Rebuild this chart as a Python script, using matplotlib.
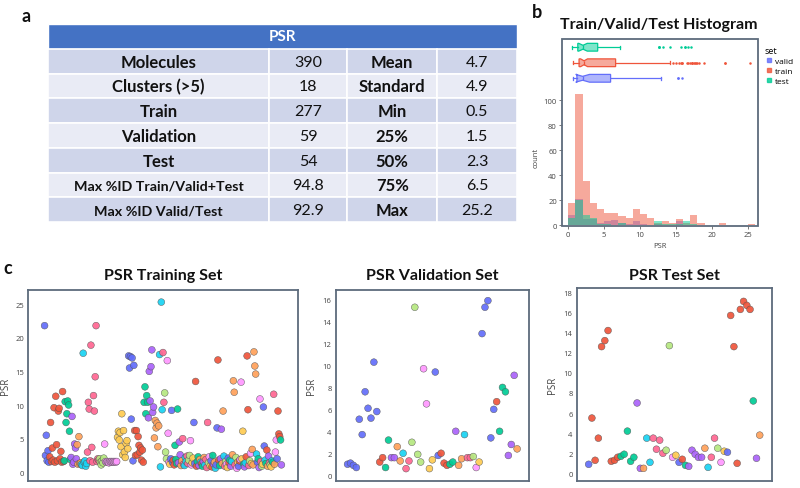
import matplotlib

matplotlib.use("Agg")

import matplotlib.pyplot as plt
import numpy as np
from matplotlib.colors import to_rgba
from matplotlib.lines import Line2D
from matplotlib.patches import Rectangle

plt.rcParams["font.family"] = ["Open Sans", "DejaVu Sans"]

# ---- panel a: summary table
table_labels = ["Molecules", "Clusters (>5)", "Train", "Validation", "Test",
                "Max %ID Train/Valid+Test", "Max %ID Valid/Test"]
table_counts = ["390", "18", "277", "59", "54", "94.8", "92.9"]
stat_labels = ["Mean", "Standard", "Min", "25%", "50%", "75%", "Max"]
stat_values = ["4.7", "4.9", "0.5", "1.5", "2.3", "6.5", "25.2"]

# plotly default qualitative colours, keyed by cluster code
palette = {"b": "#636EFA", "r": "#EF553B", "g": "#00CC96", "p": "#AB63FA",
           "o": "#FFA15A", "c": "#19D3F3", "k": "#FF6692", "l": "#B6E880",
           "m": "#FF97FF", "y": "#FECB52"}

# ---- panel c: per-molecule PSR, in sample order
train_psr = [
    21.8, 2.5, 5.5, 1.7, 3.2, 1.5, 2.3, 7.4, 1.6, 3.6, 1.8, 9.6, 1.5, 11.3, 4.1, 1.7, 9.1, 9.5, 2.0, 3.1, 1.5,
    12.0, 1.6, 1.7, 10.5, 7.4, 8.7, 10.6, 10.0, 6.1, 1.9, 2.2, 8.3, 1.2, 1.5, 4.2, 3.6, 2.0, 4.1, 1.2, 5.3, 1.3, 1.4,
    1.2, 1.0, 17.7, 1.5, 1.7, 0.9, 1.3, 3.0, 10.4, 9.4, 1.7, 18.9, 3.7, 1.5, 11.4, 9.1, 14.2, 21.8, 1.6, 2.0, 1.8,
    2.0, 1.5, 1.1, 1.7, 1.4, 2.1,
    4.2, 1.6, 1.5, 1.6, 1.5, 1.4, 1.6, 1.5, 1.6, 1.5, 1.6, 1.5, 1.6, 1.5, 1.6,
    5.2, 6.1, 4.8, 5.9, 3.8, 8.7, 2.6, 6.2, 3.0, 2.2, 4.3, 4.7, 3.5,
    17.3, 15.5, 17.2, 7.9, 17.0, 1.7, 15.9,
    6.2, 2.5, 6.2, 2.6, 5.3, 4.0, 3.0, 3.6, 1.8, 3.3, 1.5,
    10.4, 12.7, 8.7, 11.4, 10.4,
    8.1, 15.0, 10.6, 15.7, 18.2, 8.9, 9.7,
    5.1, 7.7, 6.6, 7.3, 3.8, 6.9,
    17.5, 0.8, 25.3, 9.3, 17.8, 10.4, 11.8, 3.0, 2.0, 16.6, 5.8, 1.5,
    1.2, 2.0, 9.2, 1.5, 1.8, 1.1, 4.0, 1.9, 1.3, 9.4, 1.4, 4.5, 2.6, 1.0, 1.7, 5.0, 1.2, 1.0, 2.2,
    1.6, 2.4, 1.3, 1.8, 2.5, 4.7, 1.1, 1.4, 2.1, 7.4, 1.3, 13.5, 0.9, 1.6, 2.3, 1.0, 1.9, 1.5,
    1.3, 0.9, 1.6, 2.2, 1.1, 1.9, 0.7, 7.4, 1.4, 2.3, 0.95, 1.7, 0.8, 2.5, 1.2, 1.5, 0.6, 1.1, 6.6, 16.7,
    1.8, 1.0, 2.0, 6.4, 1.3, 9.1, 2.4, 0.9, 1.6, 1.2, 0.7, 2.1, 1.4, 1.8, 0.9, 1.6, 2.6, 13.6, 11.9, 1.1,
    2.2, 0.6, 1.5, 0.9, 1.7, 1.9, 13.4, 2.0, 6.1, 1.2, 0.8, 1.4, 2.3, 17.3, 9.3, 1.0, 1.7, 2.8, 1.3, 3.4,
    1.1, 17.9, 15.8, 14.6, 2.7, 1.5, 2.0, 0.7, 10.9, 1.6, 0.9, 1.2, 9.7, 3.9, 1.8, 1.3, 3.3, 0.9, 2.4, 1.4,
    1.1, 0.8, 1.7, 1.5, 11.6, 1.2, 3.0, 4.8, 2.0, 9.1, 5.7, 5.3, 4.8, 1.1,
]
train_cluster = ("bbbbbbrrrrrrrrrrrrrrr"
                 "rrggggggggpppppppooooo"
                 "ccccccckkkkkkkkkkkkkk"
                 "llllll" "mmmmmmmmmmmmmmm" "yyyyyyyyyyyyy" "bbbbbbb" "rrrrrrrrrrr"
                 "ggggg" "ppppppp" "oooooo" "cccckklllmmm"
                 "ybbbrrggggpppookkccckkllmmyybbrrggpoc"
                 "rgpockkklmybrgpocbbrrgppoocklmybrgpcoooklmybrmmyyg"
                 "pcrrrklmyooooocbgpmklybbcgropklycgkommbrrrgp")

valid_psr = [1.0, 1.1, 0.9, 0.7, 5.1, 3.7, 7.6, 6.1, 5.2, 10.3, 5.8, 1.2, 1.6, 0.7, 3.2,
             1.6, 1.6, 2.6, 1.3, 2.0, 0.6, 1.3, 3.0, 15.3, 1.9, 1.2, 9.7, 6.5, 0.6, 1.4,
             9.4, 1.8, 2.0, 1.1, 0.9, 1.0, 1.2, 4.0, 0.9, 1.5, 3.7, 1.6, 1.6, 1.7, 0.7,
             1.2, 12.9, 15.3, 15.9, 3.4, 6.0, 6.7, 4.0, 8.0, 7.6, 1.8, 2.8, 9.1, 2.4]
valid_cluster = "bbbbbbbbbbbrrggppoockkllllmmyybbrrrggpoockklmybbbbbrgggpppo"

test_psr = [0.9, 5.5, 1.3, 3.5, 12.6, 13.2, 14.2, 1.2, 1.3, 1.6, 1.7, 1.9, 4.2, 1.2,
            1.6, 7.0, 0.5, 0.5, 3.5, 1.1, 3.5, 2.4, 3.3, 2.0, 2.3, 12.7, 1.6, 1.8,
            1.1, 1.4, 0.8, 0.7, 2.3, 1.9, 1.6, 1.6, 2.5, 0.6, 1.6, 3.5, 2.5, 1.1,
            2.2, 2.1, 15.7, 12.6, 1.0, 16.3, 17.1, 16.7, 16.3, 7.2, 1.5, 3.8]
test_cluster = "brrrrrrrrrgggggppocckkkkllmybrgpppppockklmybrrrrrrrgpo"

hist_bins = np.arange(0, 27, 1)

W, H = 800, 489
fig = plt.figure(figsize=(W / 100, H / 100), dpi=100)


def px_axes(x0, y0, x1, y1, **kw):
    return fig.add_axes([x0 / W, 1 - y1 / H, (x1 - x0) / W, (y1 - y0) / H], **kw)


TXT = "#444444"
BORDER = "#5d6b7c"

# canvas in pixel coordinates for the table, letters and the panel-b frame
canvas = px_axes(0, 0, W, H, zorder=5)
canvas.set_xlim(0, W)
canvas.set_ylim(H, 0)
canvas.axis("off")

# ---- table
col_edges = [48.2, 269.3, 347.1, 437.3, 516.5]
top, row_h = 25.0, 24.75
canvas.add_patch(Rectangle((col_edges[0], top), col_edges[-1] - col_edges[0], row_h,
                           fc="#4472C4", ec="white", lw=1.0))
canvas.text((col_edges[0] + col_edges[-1]) / 2, top + row_h / 2, "PSR", color="white",
            family="Lato", weight="bold", fontsize=11, ha="center", va="center")
for i in range(len(table_labels)):
    y0 = top + (i + 1) * row_h
    fc = "#CFD5EA" if i % 2 == 0 else "#E9EBF5"
    cells = [(table_labels[i], "bold", 12 if i < 5 else 10.3),
             (table_counts[i], "normal", 11.5),
             (stat_labels[i], "bold", 12),
             (stat_values[i], "normal", 11.5)]
    for j, (txt, wt, fs) in enumerate(cells):
        x0, x1 = col_edges[j], col_edges[j + 1]
        canvas.add_patch(Rectangle((x0, y0), x1 - x0, row_h, fc=fc, ec="white", lw=1.2))
        canvas.text((x0 + x1) / 2, y0 + row_h / 2 + 0.5, txt, family="Lato", weight=wt,
                    fontsize=fs, color="#111111", ha="center", va="center")

# ---- panel letters and titles
for letter, (lx, ly) in {"a": (26, 17), "b": (537, 12), "c": (8, 268)}.items():
    canvas.text(lx, ly, letter, family="Lato", weight="bold", fontsize=13,
                ha="center", va="center", color="#111111")
canvas.text(659, 25, "Train/Valid/Test Histogram", family="Lato", weight="bold",
            fontsize=11.5, ha="center", va="center", color="#111111")

# ---- panel b: marginal box plots + overlaid histograms
sets = [("valid", valid_psr, palette["b"]), ("train", train_psr, palette["r"]),
        ("test", test_psr, palette["g"])]

ax_b = px_axes(561.7, 40, 758.3, 90)
ax_h = px_axes(561.7, 90, 758.3, 226.7)
canvas.add_patch(Rectangle((561.7, 40), 196.6, 186.7, fc="none", ec=BORDER, lw=1.3))

for pos, (name, data, col) in enumerate(sets, start=1):
    ax_b.boxplot([data], positions=[pos], orientation="horizontal", notch=True,
                 widths=0.5, capwidths=0.22, patch_artist=True, manage_ticks=False,
                 boxprops=dict(facecolor=to_rgba(col, 0.5), edgecolor=col, lw=0.9),
                 medianprops=dict(color=col, lw=0.9),
                 whiskerprops=dict(color=col, lw=0.9), capprops=dict(color=col, lw=0.9),
                 flierprops=dict(marker="o", markersize=1.8, markerfacecolor=col,
                                 markeredgecolor="none"))
    ax_h.hist(data, bins=hist_bins, color=col, alpha=0.5, edgecolor="none", label=name)

ax_b.set_xlim(-0.92, 26.5)
ax_b.set_ylim(0.31, 3.53)
ax_b.axis("off")

ax_h.set_xlim(-0.92, 26.5)
ax_h.set_ylim(-0.5, 108.8)
ax_h.set_xticks([0, 5, 10, 15, 20, 25])
ax_h.set_yticks([0, 20, 40, 60, 80, 100])
for s in ax_h.spines.values():
    s.set_visible(False)
ax_h.tick_params(labelsize=5.5, colors=TXT, length=2, width=0.5, pad=1.5)
ax_h.set_xlabel("PSR", fontsize=5.5, color=TXT, labelpad=3)
ax_h.set_ylabel("count", fontsize=5.5, color=TXT, labelpad=3)

handles = [Line2D([], [], marker="s", ls="", color=c, alpha=0.8, markersize=3.5)
           for _, _, c in sets]
fig.legend(handles, [n for n, _, _ in sets], title="set", loc="upper left",
           bbox_to_anchor=(759 / W, 1 - 41 / H), frameon=False, fontsize=6,
           title_fontsize=6.5, alignment="left", handletextpad=0.2, labelspacing=0.25,
           borderpad=0.2, handlelength=1.0)


# ---- panel c: scatter of PSR per molecule, coloured by cluster
def draw_scatter(rect, values, codes, ylim, yticks, title, label_x):
    ax = px_axes(*rect)
    x = np.arange(len(values))
    ax.scatter(x, values, s=24, c=[palette[k] for k in codes], edgecolors="#555555",
               linewidths=0.35, alpha=0.92, zorder=3)
    n = len(values) - 1
    ax.set_xlim(-0.07 * n, 1.07 * n)
    ax.set_ylim(*ylim)
    ax.set_xticks([])
    ax.set_yticks(yticks)
    ax.tick_params(labelsize=5.5, colors=TXT, length=0, pad=3)
    ax.set_ylabel("PSR", fontsize=7, color=TXT)
    ax.yaxis.set_label_coords((label_x - rect[0]) / (rect[2] - rect[0]), 0.5)
    for s in ax.spines.values():
        s.set_color(BORDER)
        s.set_linewidth(1.3)
    cx = (rect[0] + rect[2]) / 2
    canvas.text(cx, 276, title, family="Lato", weight="bold", fontsize=11.5,
                ha="center", va="center", color="#111111")
    return ax


draw_scatter((28, 291, 298, 482), train_psr, train_cluster, (-1.3, 27.1),
             np.arange(0, 26, 5), "PSR Training Set", 11)
draw_scatter((335.7, 290.7, 529, 481.7), valid_psr, valid_cluster, (-0.5, 16.9),
             np.arange(0, 17, 2), "PSR Validation Set", 317)
draw_scatter((576.7, 289.3, 771.7, 481.7), test_psr, test_cluster, (-0.73, 18.4),
             np.arange(0, 19, 2), "PSR Test Set", 558)

fig.savefig("out.png", dpi=100)
plt.close(fig)
